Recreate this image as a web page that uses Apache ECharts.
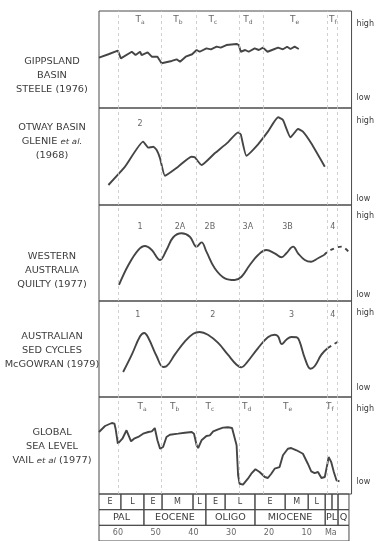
<!DOCTYPE html>
<html>
<head>
<meta charset="utf-8">
<script src="https://cdn.jsdelivr.net/npm/echarts@6/dist/echarts.min.js"></script>
<style>
  html, body { margin: 0; padding: 0; background: #fff; }
  #chart { width: 377px; height: 541px; }
</style>
</head>
<body>
<div id="chart"></div>
<script>
// ages in Ma, levels on a 0 (low) .. 100 (high) scale per panel
const gippsland = [[65,51.9],[62.5,55.4],[60.0,59.1],[59.2,51.2],[56.3,58.0],[55.3,54.6],[54.1,58.0],[53.7,54.6],[52.1,57.4],[51.0,52.9],[49.5,52.9],[48.4,46.1],[45.7,48.5],[44.4,50.2],[43.5,47.7],[42.0,52.9],[40.3,55.4],[39.1,59.8],[38.3,58.0],[36.5,61.5],[35.3,60.5],[33.8,63.2],[32.7,62.2],[31.2,64.9],[28.5,66.0],[27.9,64.9],[27.4,58.0],[26.2,59.8],[25.3,58.0],[23.7,61.5],[22.6,59.8],[21.5,62.2],[20.3,58.0],[19.1,59.8],[17.5,62.2],[16.2,60.5],[15.1,63.2],[14.2,60.8],[13.1,63.2],[12.0,60.8]];
const otway = [[62.5,20.6],[58.1,39.5],[53.3,65.3],[51.9,59.1],[50.6,60.1],[49.7,56.7],[48.8,48.1],[47.5,30.2],[44.0,39.5],[40.5,49.8],[39.6,49.2],[37.8,41.2],[34.3,53.3],[30.8,64.6],[28.1,74.9],[27.4,72.9],[25.9,50.8],[22.8,62.6],[20.2,75.6],[17.5,90.4],[16.2,87.6],[14.2,69.8],[12.2,78.4],[10.9,75.6],[8.7,63.6],[5.1,39.5]];
const westAus = [[59.7,16.7],[57.2,37.5],[54.6,53.1],[52.8,57.3],[51.0,53.1],[48.8,42.7],[47.1,53.1],[45.3,66.4],[43.1,70.5],[40.9,67.0],[39.1,56.6],[37.8,61.1],[36.5,51.4],[34.3,34.1],[31.6,23.6],[29.0,21.9],[27.2,25.3],[25.0,37.5],[22.8,47.9],[20.6,53.1],[18.4,49.7],[16.6,45.5],[15.3,49.7],[13.5,56.6],[12.2,49.7],[10.4,42.7],[8.7,40.9],[6.9,44.5],[5.3,47.9]];
const westAusDashed = [[5.3,47.9],[4.3,51.4],[2.5,54.9],[0.7,56.6],[-1.5,49.7]];
const sedCycles = [[58.6,26.0],[56.3,44.1],[54.1,63.2],[53.0,66.7],[51.9,61.5],[49.7,42.4],[48.0,31.3],[47.1,32.0],[44.9,44.1],[42.2,58.0],[40.0,65.9],[38.3,67.7],[36.1,64.9],[33.4,56.3],[30.8,44.1],[28.5,33.6],[27.2,30.9],[25.9,35.4],[22.8,51.0],[20.2,62.2],[18.4,64.9],[17.5,63.2],[16.5,55.2],[15.3,59.7],[14.0,62.5],[12.6,62.2],[11.8,58.0],[10.4,40.6],[8.9,29.5],[7.8,32.0],[6.0,44.1],[4.3,51.0]];
const sedCyclesDashed = [[4.3,51.0],[1.2,58.6]];
const seaLevel = [[65,63.9],[63.4,70.1],[61.6,73.2],[60.9,72.5],[60.6,67.3],[60.0,51.9],[59.7,50.8],[58.8,57.0],[57.7,65.7],[57.2,64.6],[56.5,54.3],[55.7,57.0],[54.6,58.8],[53.3,62.2],[51.9,63.9],[51.0,64.6],[50.2,68.0],[49.5,55.4],[48.8,46.7],[48.0,48.5],[47.1,58.8],[46.2,61.1],[44.0,62.2],[42.2,63.2],[40.4,63.9],[39.8,62.2],[39.1,50.2],[38.7,47.4],[37.8,55.4],[36.5,59.8],[35.6,60.5],[34.7,64.6],[33.4,66.7],[32.1,68.4],[30.8,68.8],[29.7,68.0],[29.2,69.1],[28.5,50.2],[28.1,19.3],[27.7,10.6],[26.8,9.6],[25.5,15.8],[24.6,20.9],[23.5,25.5],[22.4,22.7],[21.0,17.5],[20.2,16.5],[19.3,20.9],[18.4,26.1],[17.1,27.8],[16.2,39.9],[14.9,46.7],[14.0,47.4],[12.6,45.1],[10.9,41.5],[9.6,31.2],[8.7,23.4],[7.8,21.6],[6.9,22.7],[6.0,16.5],[5.1,17.5],[4.4,31.2],[4.1,38.1],[3.4,33.0],[2.7,22.7],[2.0,14.1],[1.2,13.1]];

// zone boundaries (dashed verticals)
const zoneBounds = [59.9, 48.4, 39.2, 27.8, 21.3, 4.4, 1.8];

// zone / cycle labels
const stageNames = ['a', 'b', 'c', 'd', 'e', 'f'];
const stageAgesTop = [54.1, 44.1, 34.8, 25.5, 13.1, 3.0];
const stageAgesBottom = [53.6, 44.9, 35.6, 25.8, 15.0, 3.8];
const otwayNames = ['2'];
const otwayAges = [54.1];
const westNames = ['1', '2A', '2B', '3A', '3B', '4'];
const westAges = [54.1, 43.5, 35.6, 25.5, 15.0, 3.0];
const sedNames = ['1', '2', '3', '4'];
const sedAges = [54.7, 34.8, 13.9, 3.0];

// time scale
const subEpochBounds = [65, 59.2, 53.1, 48.3, 40.1, 36.7, 31.6, 23.7, 15.7, 9.6, 5.1, 3.3, 1.7, -1.2];
const subEpochNames = ['E', 'L', 'E', 'M', 'L', 'E', 'L', 'E', 'M', 'L', '', '', ''];
const epochBounds = [65, 53.1, 36.7, 23.7, 5.1, 1.7, -1.2];
const epochNames = ['PAL', 'EOCENE', 'OLIGO', 'MIOCENE', 'PL', 'Q'];
const ageTicks = [60, 50, 40, 30, 20, 10, 3.6];
const ageTickLabels = ['60', '50', '40', '30', '20', '10', 'Ma'];

const highLevels = [87, 87, 89, 88, 88];
const lowLevels = [10, 6, 6, 9, 12];

const ink = '#3c3c3c';
const font = 'DejaVu Sans';

const tops = [11, 108, 205, 301, 397];
const heights = [97, 97, 96, 96, 97];

const grids = tops.map((t, i) => ({
    left: 99, width: 253, top: t, height: heights[i],
    show: true, borderColor: '#4a4a4a', borderWidth: 1
}));
grids.push({left: 99, width: 253, top: 494, height: 48, show: false});

const xAxes = grids.map((g, i) => ({
    gridIndex: i, type: 'value', min: -2, max: 65, inverse: true, show: false
}));
const yAxes = tops.map((t, i) => ({
    gridIndex: i, type: 'value', min: 0, max: 100, position: 'right',
    axisLine: {show: false}, axisTick: {show: false}, splitLine: {show: false},
    axisLabel: {
        customValues: [highLevels[i], lowLevels[i]],
        formatter: v => v > 50 ? 'high' : 'low',
        margin: 5, fontSize: 8, color: ink, fontFamily: font
    }
}));
yAxes.push({gridIndex: 5, type: 'value', min: 0, max: 3, inverse: true, show: false});

const dashedZones = {
    silent: true, symbol: 'none', label: {show: false},
    lineStyle: {type: [3, 3], color: '#c4c4c4', width: 0.8},
    data: zoneBounds.map(a => ({xAxis: a}))
};

function curve(idx, data, smooth, dashed) {
    return {
        type: 'line', xAxisIndex: idx, yAxisIndex: idx, data: data,
        showSymbol: false, smooth: smooth, silent: true,
        lineStyle: {color: '#454545', width: 1.9, type: dashed ? [4, 4] : 'solid'},
        markLine: dashed ? undefined : dashedZones
    };
}

function labels(idx, ages, names, y, stage) {
    return {
        type: 'scatter', xAxisIndex: idx, yAxisIndex: idx, symbolSize: 0, silent: true,
        data: ages.map((a, i) => ({value: [a, y], name: names[i]})),
        label: {
            show: true, position: 'inside', color: ink, fontFamily: font, fontSize: 8,
            formatter: stage ? p => '{t|T}{s|' + p.name + '}' : '{b}',
            rich: {
                t: {fontSize: 9, fontFamily: font, color: ink},
                s: {fontSize: 6, fontFamily: font, color: ink, padding: [5, 0, 0, 0]}
            }
        }
    };
}

const cells = [];
const cellNames = [];
subEpochNames.forEach((n, i) => {
    cells.push([subEpochBounds[i], subEpochBounds[i + 1], 0]);
    cellNames.push(n);
});
epochNames.forEach((n, i) => {
    cells.push([epochBounds[i], epochBounds[i + 1], 1]);
    cellNames.push(n);
});
cells.push([epochBounds[0], epochBounds[epochBounds.length - 1], 2]);
cellNames.push('');

const timeScale = {
    type: 'custom', xAxisIndex: 5, yAxisIndex: 5, silent: true, data: cells,
    renderItem: (params, api) => {
        const s = api.coord([api.value(0), api.value(2)]);
        const e = api.coord([api.value(1), api.value(2) + 1]);
        const cx = (s[0] + e[0]) / 2;
        const cy = (s[1] + e[1]) / 2;
        return {
            type: 'group', children: [
                {type: 'rect', shape: {x: s[0], y: s[1], width: e[0] - s[0], height: e[1] - s[1]},
                 style: {fill: 'none', stroke: '#4a4a4a', lineWidth: 1}},
                {type: 'text', x: cx, y: cy, scaleX: api.value(2) === 1 ? 1.2 : 1, style: {
                    text: cellNames[params.dataIndex], x: 0, y: 0,
                    align: 'center', verticalAlign: 'middle', fontSize: 8, fontFamily: font, fill: ink
                }}
            ]
        };
    }
};

const ageLabels = {
    type: 'scatter', xAxisIndex: 5, yAxisIndex: 5, symbolSize: 0, silent: true,
    data: ageTicks.map((a, i) => ({value: [a, 2.5], name: ageTickLabels[i]})),
    label: {show: true, position: 'inside', formatter: '{b}', fontSize: 8, fontFamily: font, color: ink}
};

const sideText = (y, text) => ({
    type: 'text', x: 52, y: y, scaleX: 1.15,
    style: {
        text: text, align: 'center', fontSize: 8.5, lineHeight: 14, fontFamily: font, fill: ink,
        rich: {i: {fontSize: 7.5, fontStyle: 'italic', fontFamily: font, fill: ink}}
    }
});

const chart = echarts.init(document.getElementById('chart'));
chart.setOption({
    animation: false,
    backgroundColor: '#fff',
    grid: grids,
    xAxis: xAxes,
    yAxis: yAxes,
    graphic: [
        sideText(55, 'GIPPSLAND\nBASIN\nSTEELE (1976)'),
        sideText(121, 'OTWAY BASIN\nGLENIE {i|et al.}\n(1968)'),
        sideText(250, 'WESTERN\nAUSTRALIA\nQUILTY (1977)'),
        sideText(330, 'AUSTRALIAN\nSED CYCLES\nMcGOWRAN (1979)'),
        sideText(426, 'GLOBAL\nSEA LEVEL\nVAIL {i|et al} (1977)')
    ],
    series: [
        curve(0, gippsland, false),
        curve(1, otway, 0.15),
        curve(2, westAus, 0.4),
        curve(2, westAusDashed, 0.4, true),
        curve(3, sedCycles, 0.4),
        curve(3, sedCyclesDashed, 0, true),
        curve(4, seaLevel, false),
        labels(0, stageAgesTop, stageNames, 90.7, true),
        labels(1, otwayAges, otwayNames, 83.5, false),
        labels(2, westAges, westNames, 77, false),
        labels(3, sedAges, sedNames, 85.4, false),
        labels(4, stageAgesBottom, stageNames, 89.7, true),
        timeScale,
        ageLabels
    ]
});
</script>
</body>
</html>
